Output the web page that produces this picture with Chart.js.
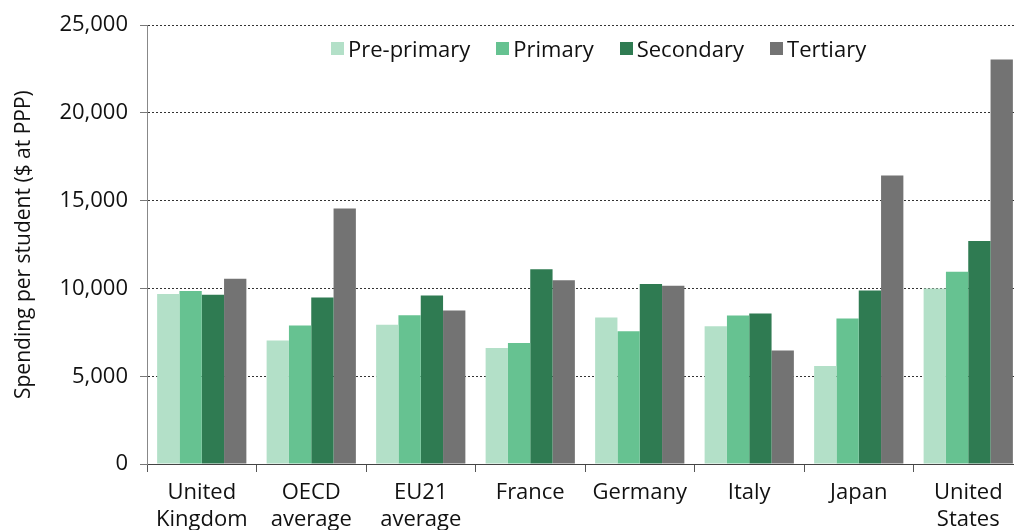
<!DOCTYPE html>
<html>
<head>
<meta charset="utf-8">
<script src="https://cdn.jsdelivr.net/npm/chart.js@4"></script>
<style>
  html, body { margin: 0; padding: 0; background: #fff; overflow: hidden; }
  #wrap { position: relative; width: 1014px; height: 530px; overflow: hidden; }
  #legend {
    position: absolute; left: 331px; top: 33px;
    display: flex; align-items: center;
    font-family: "Open Sans", "Noto Sans", sans-serif; font-size: 22px; color: #111;
  }
  #legend .item { display: flex; align-items: center; margin-right: 26px; }
  #legend .box { width: 13px; height: 13px; margin-right: 4px; }
</style>
</head>
<body>
<div id="wrap">
  <canvas id="myChart" width="1023" height="530"></canvas>
  <div id="legend"></div>
</div>
<script>
// categories and values ($ at PPP per student)
const countries = [
  ['United', 'Kingdom'], ['OECD', 'average'], ['EU21', 'average'], 'France',
  'Germany', 'Italy', 'Japan', ['United', 'States']
];
const prePrimary = [9680, 7040, 7930, 6610, 8350, 7850, 5590, 10000];
const primary    = [9850, 7890, 8480, 6900, 7570, 8460, 8290, 10950];
const secondary  = [9640, 9490, 9600, 11100, 10260, 8580, 9890, 12710];
const tertiary   = [10550, 14560, 8750, 10470, 10150, 6470, 16440, 23050];
const yTicks = [0, 5000, 10000, 15000, 20000, 25000];

const seriesNames = ['Pre-primary', 'Primary', 'Secondary', 'Tertiary'];
const seriesColors = ['#b3e0c8', '#66c291', '#2f7b52', '#737373'];
const seriesData = [prePrimary, primary, secondary, tertiary];

const font = "'Open Sans', 'Noto Sans', sans-serif";

// html legend (sits inside the plot area like the original)
const legend = document.getElementById('legend');
seriesNames.forEach((name, i) => {
  const item = document.createElement('div');
  item.className = 'item';
  item.innerHTML = '<span class="box" style="background:' + seriesColors[i] + '"></span><span>' + name + '</span>';
  legend.appendChild(item);
});

const ctx = document.getElementById('myChart');
new Chart(ctx, {
  type: 'bar',
  data: {
    labels: countries,
    datasets: seriesNames.map((name, i) => ({
      label: name,
      data: seriesData[i],
      backgroundColor: seriesColors[i],
      borderWidth: 0,
      categoryPercentage: 0.815,
      barPercentage: 1.0
    }))
  },
  options: {
    responsive: false,
    animation: false,
    layout: { padding: { top: 25, right: 0, left: 0, bottom: 0 } },
    plugins: {
      legend: { display: false },
      tooltip: { enabled: false }
    },
    scales: {
      x: {
        grid: {
          offset: true,
          drawOnChartArea: false,
          tickLength: 8,
          color: '#555'
        },
        border: { color: '#444', width: 1 },
        ticks: {
          color: '#111',
          font: { family: font, size: 22, lineHeight: 1.2 },
          padding: 8,
          maxRotation: 0,
          autoSkip: false
        },
        afterFit: (scale) => { scale.height = 66; }
      },
      y: {
        min: 0,
        max: 25000,
        afterBuildTicks: (scale) => { scale.ticks = yTicks.map(v => ({ value: v })); },
        grid: {
          color: '#333',
          tickColor: '#777',
          tickLength: 7,
          lineWidth: 1
        },
        border: { color: '#888', width: 1, dash: [2, 2] },
        ticks: {
          color: '#111',
          font: { family: font, size: 22 },
          padding: 12,
          callback: (v) => v.toLocaleString('en-US')
        },
        title: {
          display: true,
          text: 'Spending per student ($ at PPP)',
          color: '#111',
          font: { family: font, size: 21 },
          padding: { top: 11, bottom: 4 }
        },
        afterFit: (scale) => { scale.width = 147; }
      }
    }
  }
});
</script>
</body>
</html>
